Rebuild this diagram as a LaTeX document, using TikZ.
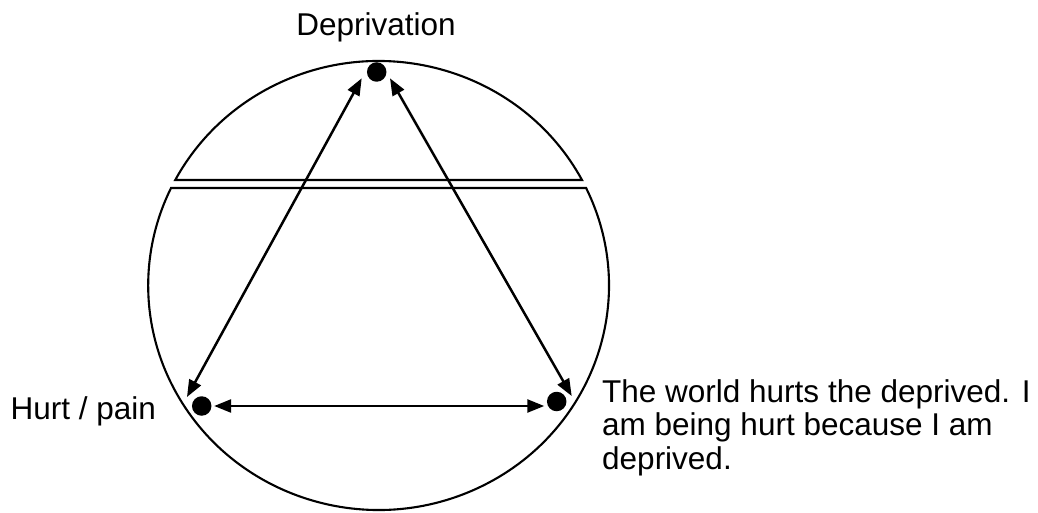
\documentclass[tikz,border=0pt]{standalone}
\usepackage{fontspec}
\setmainfont{Liberation Sans}
\usetikzlibrary{arrows.meta}
\begin{document}
\begin{tikzpicture}[x=1pt,y=1pt,
  dot/.style={circle,fill=black,inner sep=0pt,minimum size=19.5pt},
  arr/.style={line width=2.5pt,{Triangle[length=17pt,width=13pt]}-{Triangle[length=17pt,width=13pt]}},
  rim/.style={line width=2.1pt},
  lbl/.style={inner sep=0pt,font=\fontsize{31.5}{33.5}\selectfont}]
\useasboundingbox (0,0) rectangle (1038,512);
% split circle
\draw[rim,line join=miter] (582,332) arc[start angle=28.03,end angle=151.97,x radius=230.4,y radius=224.5] -- cycle;
\draw[rim,line join=miter] (586.1,324) arc[start angle=25.74,end angle=-205.74,x radius=230.4,y radius=224.5] -- cycle;
% dots
\node[dot] (dep) at (376.7,440) {};
\node[dot] (hurt) at (201.7,106) {};
\node[dot] (world) at (556.7,110.5) {};
% arrow ends
\coordinate (a1t) at (361.7,433.7);
\coordinate (a1b) at (187,115);
\coordinate (a2t) at (390,433.7);
\coordinate (a2b) at (571.7,116);
\draw[arr] (a1t) -- (a1b);
\draw[arr] (a2t) -- (a2b);
\draw[arr,shorten <=2.5pt,shorten >=2.5pt] (hurt.east) -- (hurt.east -| world.west);
% labels
\node[lbl,anchor=base] (tdep) at (376,476) {Deprivation};
\node[lbl,anchor=base west] (thurt) at (10.5,92.7) {Hurt / pain};
\node[lbl,anchor=north west,align=left] (tworld) at (602,133) {The world hurts the deprived. I\\am being hurt because I am\\deprived.};
\end{tikzpicture}
\end{document}
